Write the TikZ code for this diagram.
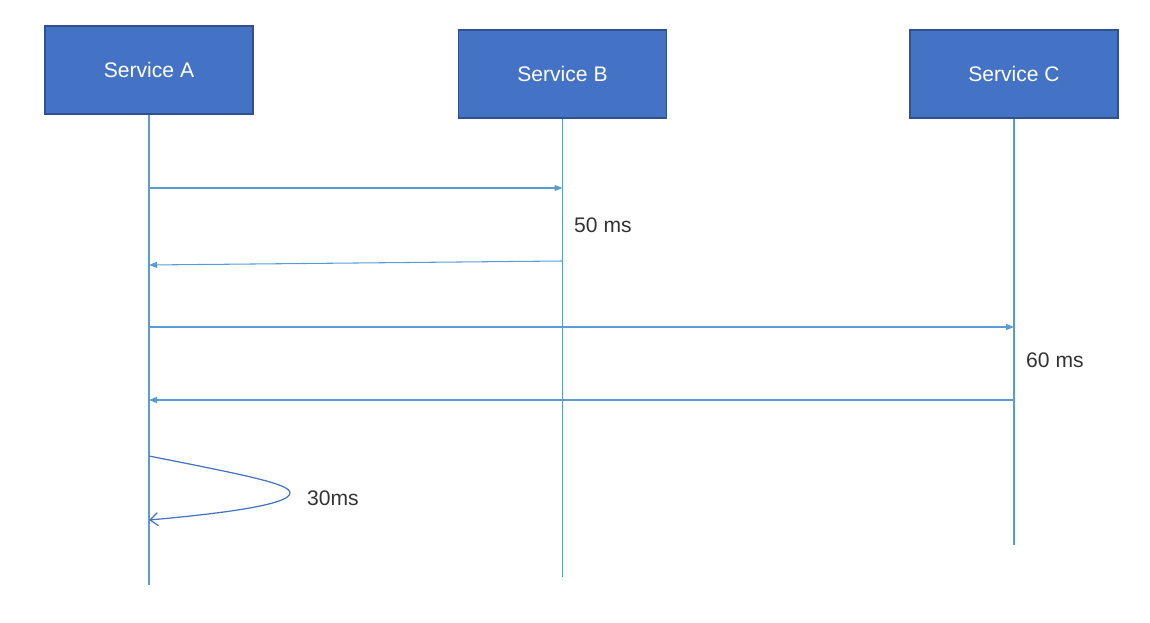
\documentclass[tikz,border=0pt]{standalone}
\usepackage{fontspec}
\setmainfont{Liberation Sans}
\usepackage{xcolor}
\usetikzlibrary{arrows.meta,positioning,calc}
\definecolor{boxblue}{HTML}{4472C4}
\definecolor{boxedge}{HTML}{2F528F}
\definecolor{lineblue}{HTML}{5B9BD5}
\definecolor{textgray}{HTML}{333333}
\tikzset{
  service/.style={draw=boxedge, line width=0.6pt, fill=boxblue, text=white, minimum width=41.6mm, minimum height=17.6mm, font=\fontsize{12}{14}\selectfont},
  lifeline/.style={draw=lineblue, line width=0.6pt},
  message/.style={-{Triangle[length=1.6mm,width=1.2mm]}, draw=lineblue, line width=0.6pt},
  selfmsg/.style={-{Straight Barb[length=1.6mm,width=2.6mm]}, draw=boxblue, line width=0.7pt},
  duration/.style={anchor=west, text=textgray, font=\fontsize{12}{14}\selectfont},
}

\begin{document}
\begin{tikzpicture}[x=0.2mm,y=-0.2mm]
  \useasboundingbox (0,0) rectangle (1150,623);
  \node[service] (svca) at (149,70) {Service A};
  \node[service] (svcb) at (562.5,74) {Service B};
  \node[service] (svcc) at (1014,74) {Service C};
  % lifeline ends
  \coordinate (enda) at (149,585);
  \coordinate (endb) at (562.5,577);
  \coordinate (endc) at (1014,545);
  \foreach \s in {a,b,c} {\draw[lifeline] (svc\s.south) -- (end\s);}
  % message points on the lifelines
  \coordinate (a1) at (149,188);  \coordinate (b1) at (562.5,188);
  \coordinate (b2) at (562.5,261); \coordinate (a2) at (149,265);
  \coordinate (a3) at (149,327);  \coordinate (c3) at (1014,327);
  \coordinate (c4) at (1014,400); \coordinate (a4) at (149,400);
  \coordinate (a5) at (149,456);  \coordinate (a6) at (149,520);
  \coordinate (turn) at (290,493);
  \draw[message] (a1) -- (b1);
  \draw[message] (b2) -- (a2);
  \draw[message] (a3) -- (c3);
  \draw[message] (c4) -- (a4);
  \draw[selfmsg] (a5) .. controls (250,476) and (290,484) .. (turn)
    .. controls (290,503) and (240,512) .. (a6);
  \node[duration] (t50) at (568,225) {50 ms};
  \node[duration] (t60) at (1020,360) {60 ms};
  \node[duration] (t30) at (301,498) {30ms};
\end{tikzpicture}
\end{document}
